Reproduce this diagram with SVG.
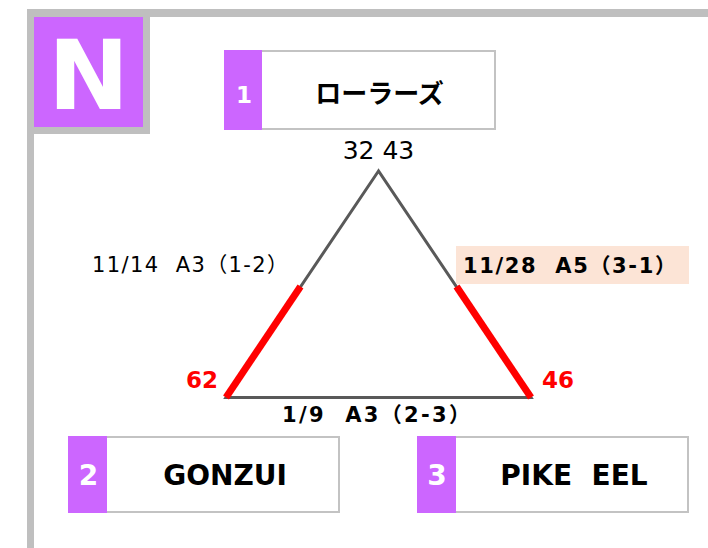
<svg xmlns="http://www.w3.org/2000/svg" width="708" height="548" viewBox="0 0 708 548">
<style>
.t{font-family:"DejaVu Sans","Noto Sans CJK JP",sans-serif;white-space:pre;}
.b{font-weight:bold;}
.box{fill:#FFFFFF;stroke:#C3C3C3;stroke-width:2;}
.tag{fill:#CC66FF;}
.num{fill:#FFFFFF;font-weight:bold;text-anchor:middle;}
.name{fill:#000000;font-weight:bold;text-anchor:middle;}
.edge{stroke:#595959;stroke-width:3;fill:none;}
.hot{stroke:#FF0000;stroke-width:7;fill:none;}
.lbl{fill:#000000;font-size:21px;}
.score{fill:#FF0000;font-weight:bold;font-size:23px;}
</style>
<rect width="708" height="548" fill="#FFFFFF"/>
<g id="frame">
<rect x="27" y="9" width="681" height="8" fill="#BFBFBF"/>
<rect x="27" y="9" width="7" height="539" fill="#BFBFBF"/>
<rect x="27" y="9" width="123" height="125" fill="#BFBFBF"/>
<rect x="34" y="17" width="109" height="110" fill="#CC66FF"/>
<text class="t b" x="88.5" y="109" font-size="97" fill="#FFFFFF" text-anchor="middle">N</text>
</g>
<g id="connectors">
<polygon class="edge" points="378.5,171 226,397.5 531,397.5"/>
<line class="hot" x1="226" y1="397.5" x2="300.5" y2="286.5"/>
<line class="hot" x1="531" y1="397.5" x2="456.5" y2="286.5"/>
</g>
<g id="labels">
<text class="t" x="378.5" y="159" font-size="25" text-anchor="middle">32 43</text>
<text class="t lbl" x="92" y="272" textLength="196" lengthAdjust="spacing" xml:space="preserve">11/14  A3（1-2）</text>
<rect x="456" y="246" width="233" height="38" fill="#FCE4D6"/>
<text class="t lbl b" x="463" y="273" textLength="213" lengthAdjust="spacing" xml:space="preserve">11/28  A5（3-1）</text>
<text class="t lbl b" x="282" y="422" textLength="188" lengthAdjust="spacing" xml:space="preserve">1/9  A3（2-3）</text>
<text class="t score" x="186" y="388">62</text>
<text class="t score" x="542" y="388">46</text>
</g>
<g id="node1">
<rect class="box" x="225" y="51" width="270" height="78"/>
<rect class="tag" x="224" y="50" width="38" height="80"/>
<text class="t num" x="244" y="103" font-size="23">1</text>
<text class="t name" x="379.5" y="103" font-size="26">ローラーズ</text>
</g>
<g id="node2">
<rect class="box" x="69" y="437" width="270" height="75"/>
<rect class="tag" x="68" y="436" width="39" height="77"/>
<text class="t num" x="88.5" y="485" font-size="28">2</text>
<text class="t name" x="225" y="485" font-size="28">GONZUI</text>
</g>
<g id="node3">
<rect class="box" x="418" y="437" width="270" height="75"/>
<rect class="tag" x="417" y="436" width="39" height="77"/>
<text class="t num" x="437" y="485" font-size="28">3</text>
<text class="t name" x="574" y="485" font-size="28" xml:space="preserve">PIKE  EEL</text>
</g>
</svg>
